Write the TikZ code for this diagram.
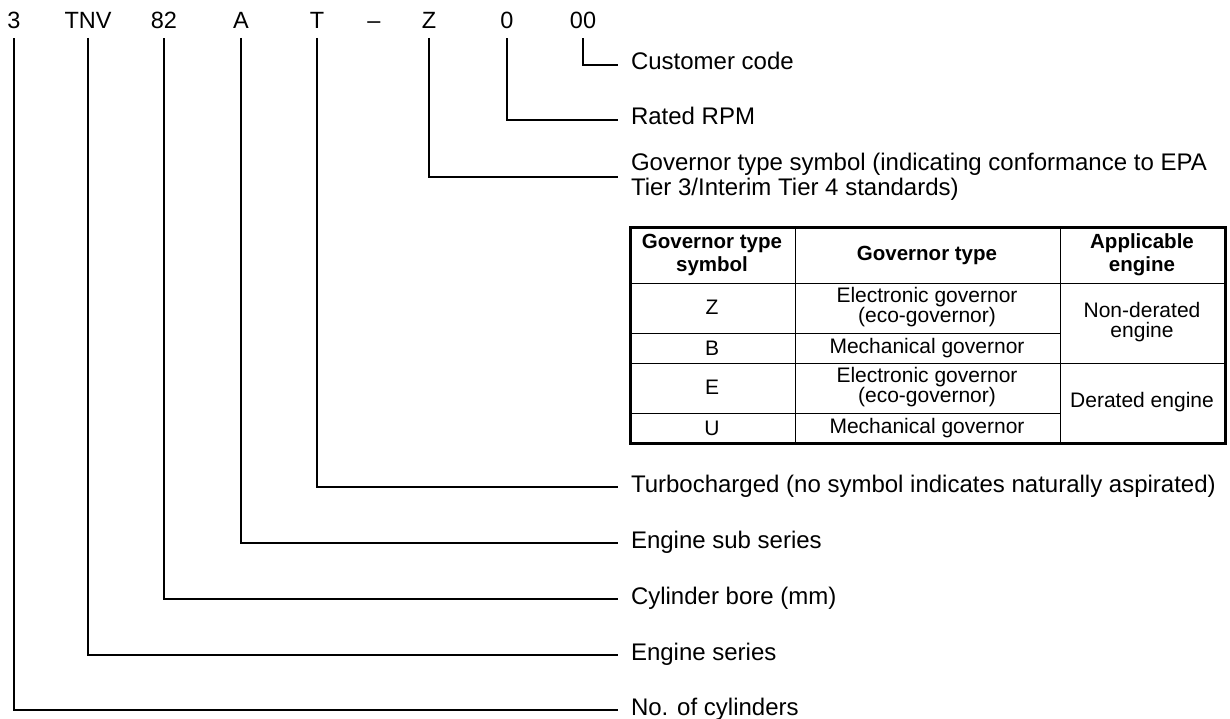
\documentclass[tikz,border=0pt]{standalone}
\usepackage{fontspec}
\setmainfont{Liberation Sans}
\usetikzlibrary{positioning}

\begin{document}
\begin{tikzpicture}[x=1pt,y=-1pt,
		code/.style={anchor=base,inner sep=0pt,outer sep=9pt,font=\fontsize{23.5}{26}\selectfont},
		meaning/.style={anchor=west,inner xsep=13pt,inner ysep=0pt,outer sep=0pt,text height=17pt,text depth=7pt,font=\fontsize{24}{26}\selectfont},
		longmeaning/.style={anchor=west,inner xsep=13pt,inner ysep=0pt,outer sep=0pt,align=left,font=\fontsize{24}{25}\selectfont},
		link/.style={line width=1.3pt},
		cell/.style={inner sep=0pt,align=center,font=\fontsize{21}{20.5}\selectfont},
		headcell/.style={inner sep=0pt,align=center,font=\fontsize{20.5}{23}\selectfont\bfseries}]
	\useasboundingbox (0,0) rectangle (1230,719);
	% model code
	\node[code] (c3) at (14,29) {3};
	\node[code] (cTNV) at (88,29) {TNV};
	\node[code] (c82) at (164,29) {82};
	\node[code] (cA) at (241,29) {A};
	\node[code] (cT) at (317,29) {T};
	\node[code] (cdash) at (374,29) {--};
	\node[code] (cZ) at (429,29) {Z};
	\node[code] (c0) at (507,29) {0};
	\node[code] (c00) at (583,29) {00};
	% meanings
	\node[meaning] (m00) at (618,65) {Customer code};
	\node[meaning] (m0) at (618,120) {Rated RPM};
	\node[longmeaning] (mZ) at (618,177) {Governor type symbol (indicating conformance to EPA\\Tier 3/Interim Tier 4 standards)};
	\node[meaning] (mT) at (618,487) {Turbocharged (no symbol indicates naturally aspirated)};
	\node[meaning] (mA) at (618,543) {Engine sub series};
	\node[meaning] (m82) at (618,599) {Cylinder bore (mm)};
	\node[meaning] (mTNV) at (618,655) {Engine series};
	\node[meaning] (m3) at (618,710) {No. of cylinders};
	\foreach \a in {00,0,Z,T,A,82,TNV,3}
	{
		\draw[link] (c\a.south) |- (m\a.west);
	}
	% governor table
	\draw[line width=1pt] (795,228) -- (795,443);
	\draw[line width=1pt] (1060,228) -- (1060,443);
	\draw[line width=1pt] (630,283) -- (1225,283);
	\draw[line width=1pt] (630,333) -- (1060,333);
	\draw[line width=1pt] (630,363) -- (1225,363);
	\draw[line width=1pt] (630,413) -- (1060,413);
	\draw[line width=3pt] (630,228) rectangle (1225,443);
	\node[headcell] (hsym) at (712,255) {Governor type\\symbol};
	\node[headcell] (htype) at (927,255) {Governor type};
	\node[headcell] (heng) at (1142,255) {Applicable\\engine};
	\node[cell] (sZ) at (712,307) {Z};
	\node[cell] (tZ) at (927,307) {Electronic governor\\(eco-governor)};
	\node[cell] (sB) at (712,348) {B};
	\node[cell] (tB) at (927,348) {Mechanical governor};
	\node[cell] (sE) at (712,387) {E};
	\node[cell] (tE) at (927,387) {Electronic governor\\(eco-governor)};
	\node[cell] (sU) at (712,428) {U};
	\node[cell] (tU) at (927,428) {Mechanical governor};
	\node[cell] (enon) at (1142,322) {Non-derated\\engine};
	\node[cell] (eder) at (1142,402) {Derated engine};
\end{tikzpicture}
\end{document}
